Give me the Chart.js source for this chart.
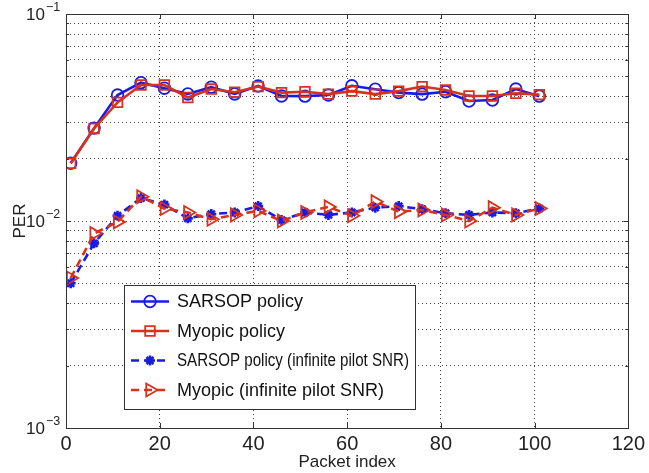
<!DOCTYPE html>
<html><head><meta charset="utf-8">
<script src="https://cdn.jsdelivr.net/npm/chart.js@4/dist/chart.umd.min.js"></script>
<style>html,body{margin:0;padding:0;background:#fff;overflow:hidden}#wrap{width:649px;height:473px;position:relative}</style>
</head><body><div id="wrap"><canvas id="c" width="649" height="473"></canvas></div>
<script>
const packetIndex = [1,6,11,16,21,26,31,36,41,46,51,56,61,66,71,76,81,86,91,96,101];
const sarsop    = [0.0190,0.0281,0.0406,0.0466,0.0438,0.0411,0.0443,0.0411,0.0449,0.0402,0.0401,0.0406,0.0450,0.0433,0.0417,0.0410,0.0421,0.0380,0.0384,0.0434,0.0401];
const myopic    = [0.0190,0.0280,0.0374,0.0454,0.0454,0.0395,0.0434,0.0419,0.0446,0.0417,0.0421,0.0410,0.0424,0.0410,0.0424,0.0446,0.0429,0.0402,0.0402,0.0414,0.0408];
const sarsopInf = [0.0050,0.0078,0.0106,0.0129,0.0120,0.0103,0.0108,0.0110,0.0118,0.0101,0.0110,0.0107,0.0110,0.0116,0.0118,0.0114,0.0109,0.0107,0.0110,0.0109,0.0115];
const myopicInf = [0.0053,0.0087,0.0099,0.0131,0.0115,0.0110,0.0102,0.0107,0.0112,0.0100,0.0110,0.0117,0.0106,0.0124,0.0111,0.0113,0.0107,0.0100,0.0116,0.0107,0.0115];
const seriesLabels = ['SARSOP policy','Myopic policy','SARSOP policy (infinite pilot SNR)','Myopic (infinite pilot SNR)'];
const xTicks = [0,20,40,60,80,100,120];
const yTicks = [0.001,0.002,0.003,0.004,0.005,0.006,0.007,0.008,0.009,0.01,0.02,0.03,0.04,0.05,0.06,0.07,0.08,0.09,0.1];
const yDecades = [0.001,0.01,0.1];
const yDecadeExponents = ['\u22123','\u22122','\u22121'];
const xTitle = 'Packet index';
const yTitle = 'PER';

const BLUE = '#1a1ae8';
const RED = '#d8321c';
const FONT = '"Liberation Sans", Arial, Helvetica, sans-serif';

function pts(ys){ return packetIndex.map((x,i)=>({x:x,y:ys[i]})); }

const datasets = [
  {label:seriesLabels[0], data:pts(sarsop), borderColor:BLUE, backgroundColor:'transparent', borderWidth:2.6,
   pointStyle:'circle', pointRadius:5.8, pointBorderWidth:1.8, pointBackgroundColor:'transparent', pointBorderColor:BLUE, order:2},
  {label:seriesLabels[1], data:pts(myopic), borderColor:RED, backgroundColor:'transparent', borderWidth:2.6,
   pointStyle:'rect', pointRadius:6.8, pointBorderWidth:1.8, pointBackgroundColor:'transparent', pointBorderColor:RED, order:1},
  {label:seriesLabels[2], data:pts(sarsopInf), borderColor:BLUE, backgroundColor:'transparent', borderWidth:2.6, borderDash:[8,5],
   pointStyle:'star', pointRadius:5, pointBorderWidth:2.6, pointBackgroundColor:BLUE, pointBorderColor:BLUE, order:2},
  {label:seriesLabels[3], data:pts(myopicInf), borderColor:RED, backgroundColor:'transparent', borderWidth:2.6, borderDash:[8,5],
   pointStyle:'triangle', pointRotation:90, pointRadius:7.5, pointBorderWidth:1.8, pointBackgroundColor:'transparent', pointBorderColor:RED, order:1}
];

const overlay = {
  id:'overlay',
  afterDraw(chart){
    const ctx = chart.ctx, a = chart.chartArea, xs = chart.scales.x, ys = chart.scales.y;
    ctx.save();
    // frame
    ctx.strokeStyle = '#333'; ctx.lineWidth = 1; ctx.setLineDash([]);
    ctx.strokeRect(Math.round(a.left)+0.5, Math.round(a.top)+0.5, Math.round(a.right-a.left), Math.round(a.bottom-a.top));
    // inward ticks
    ctx.beginPath();
    xTicks.forEach(v=>{
      const px = Math.round(xs.getPixelForValue(v))+0.5;
      ctx.moveTo(px,a.bottom); ctx.lineTo(px,a.bottom-5);
      ctx.moveTo(px,a.top); ctx.lineTo(px,a.top+5);
    });
    yTicks.forEach(v=>{
      const py = Math.round(ys.getPixelForValue(v))+0.5;
      const len = yDecades.includes(v) ? 5 : 3;
      ctx.moveTo(a.left,py); ctx.lineTo(a.left+len,py);
      ctx.moveTo(a.right,py); ctx.lineTo(a.right-len,py);
    });
    ctx.stroke();
    // y decade labels
    ctx.fillStyle = '#222';
    yDecades.forEach((v,i)=>{
      const py = ys.getPixelForValue(v);
      ctx.font = '17px ' + FONT; ctx.textAlign='right'; ctx.textBaseline='middle';
      ctx.fillText('10', 45, py+1);
      ctx.font = '12.5px ' + FONT; ctx.textAlign='left';
      ctx.fillText(yDecadeExponents[i], 46, py-6);
    });
    // y title
    ctx.save();
    ctx.translate(20, (a.top+a.bottom)/2);
    ctx.rotate(-Math.PI/2);
    ctx.font = '17px ' + FONT; ctx.textAlign='center'; ctx.textBaseline='middle';
    ctx.fillText(yTitle, 0, 0);
    ctx.restore();
    // legend
    const L = {x:124, y:285, w:291, h:124};
    ctx.fillStyle = '#fff';
    ctx.fillRect(L.x, L.y, L.w, L.h);
    ctx.strokeStyle = '#333'; ctx.lineWidth = 1;
    ctx.strokeRect(L.x+0.5, L.y+0.5, L.w, L.h);
    const rows = [301.5, 331, 360.5, 390];
    chart.data.datasets.forEach((ds,i)=>{
      const y = rows[i];
      ctx.save();
      ctx.strokeStyle = ds.borderColor; ctx.lineWidth = ds.borderWidth;
      ctx.setLineDash(ds.borderDash || []);
      ctx.beginPath(); ctx.moveTo(131,y); ctx.lineTo(169,y); ctx.stroke();
      ctx.setLineDash([]);
      ctx.strokeStyle = ds.pointBorderColor; ctx.fillStyle = ds.pointBackgroundColor;
      ctx.lineWidth = ds.pointBorderWidth;
      Chart.helpers.drawPoint(ctx, {pointStyle:ds.pointStyle, radius:ds.pointRadius, rotation:ds.pointRotation||0, borderWidth:ds.pointBorderWidth}, 150, y);
      ctx.restore();
      ctx.fillStyle = '#111'; ctx.font = '18px ' + FONT; ctx.textAlign='left'; ctx.textBaseline='middle';
      ctx.fillText(ds.label, 177, y+1, 232);
    });
    ctx.restore();
  }
};

new Chart(document.getElementById('c'), {
  type:'line',
  data:{datasets:datasets},
  options:{
    responsive:false, animation:false, devicePixelRatio:1,
    layout:{padding:{top:14,right:19,left:0,bottom:0}},
    plugins:{legend:{display:false}, tooltip:{enabled:false}},
    elements:{line:{tension:0}},
    scales:{
      x:{type:'linear', min:0, max:120,
        afterBuildTicks:s=>{ s.ticks = xTicks.map(v=>({value:v})); },
        grid:{color:'#444', lineWidth:1, drawTicks:false},
        border:{display:false, dash:[1,3]},
        ticks:{font:{family:FONT,size:20}, color:'#222', padding:4, maxRotation:0, autoSkip:false},
        title:{display:true, text:xTitle, font:{family:FONT,size:17}, color:'#222', padding:{top:0,bottom:0}},
        afterFit:s=>{ s.height = 45; }
      },
      y:{type:'logarithmic', min:0.001, max:0.1,
        afterBuildTicks:s=>{ s.ticks = yTicks.map(v=>({value:v})); },
        grid:{color:'#444', lineWidth:1, drawTicks:false},
        border:{display:false, dash:[1,3]},
        ticks:{callback:()=> '', padding:0},
        afterFit:s=>{ s.width = 66; }
      }
    }
  },
  plugins:[overlay]
});
</script></body></html>
